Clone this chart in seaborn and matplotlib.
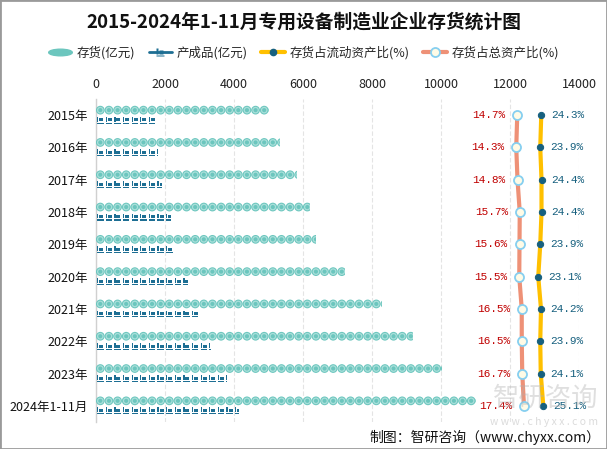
import numpy as np
import pandas as pd
import matplotlib
matplotlib.use("Agg")
import matplotlib.pyplot as plt
from matplotlib.path import Path
from matplotlib.lines import Line2D
from matplotlib.patches import Rectangle
import seaborn as sns

# ---------------- data ----------------
years = ['2015年', '2016年', '2017年', '2018年', '2019年', '2020年',
         '2021年', '2022年', '2023年', '2024年1-11月']
inventory = [5010, 5330, 5830, 6200, 6370, 7220, 8290, 9190, 10030, 11010]   # 存货(亿元)
finished = [1770, 1800, 1910, 2170, 2290, 2670, 3040, 3330, 3800, 4150]     # 产成品(亿元)
ratio_current = [24.3, 23.9, 24.4, 24.4, 23.9, 23.1, 24.2, 23.9, 24.1, 25.1]  # 存货占流动资产比(%)
ratio_total = [14.7, 14.3, 14.8, 15.7, 15.6, 15.5, 16.5, 16.5, 16.7, 17.4]    # 存货占总资产比(%)
x_ticks = [0, 2000, 4000, 6000, 8000, 10000, 12000, 14000]

title = '2015-2024年1-11月专用设备制造业企业存货统计图'
series_names = ['存货(亿元)', '产成品(亿元)', '存货占流动资产比(%)', '存货占总资产比(%)']
source = '制图：智研咨询（www.chyxx.com）'

# ---------------- style ----------------
sns.set_theme(style='white')
plt.rcParams['font.family'] = ['Noto Sans CJK SC', 'DejaVu Sans']
plt.rcParams['axes.unicode_minus'] = False

TEAL = '#6cc6be'
TEAL_LIGHT = '#a9dfda'
ICON = '#1d6e93'
YELLOW = '#ffc000'
SALMON = '#ee9177'
DOT = '#17607f'
RED = '#c00000'

fig = plt.figure(figsize=(6.07, 4.49), dpi=100)
W, H = 607, 449
ax = fig.add_axes([96 / W, 1 - 422 / H, (579 - 96) / W, (422 - 99) / H])

df = pd.DataFrame({
    'year': years * 2,
    'value': inventory + finished,
    'series': [series_names[0]] * len(years) + [series_names[1]] * len(years),
})
sns.barplot(data=df, x='value', y='year', hue='series', order=years,
            hue_order=series_names[:2], orient='y', width=0.62, dodge=True,
            ax=ax, legend=False, palette=[TEAL, ICON])

step_circle = 250.0
step_icon = 250.0

# icon marker path (small forklift-like glyph with underline)
icon_verts = [
    (0.0, 0.2), (0.18, 0.2), (0.18, 0.95), (0.0, 0.95), (0.0, 0.2),
    (0.32, 0.22), (0.95, 0.22), (0.95, 0.68), (0.32, 0.68), (0.32, 0.22),
    (0.0, -0.12), (1.0, -0.12), (1.0, 0.04), (0.0, 0.04), (0.0, -0.12),
]
icon_codes = [Path.MOVETO, Path.LINETO, Path.LINETO, Path.LINETO, Path.CLOSEPOLY] * 3
icon_path = Path(np.array(icon_verts) - np.array([0.5, 0.42]), icon_codes)

for ci, cont in enumerate(ax.containers):
    for patch in cont.patches:
        patch.set_facecolor('none')
        patch.set_edgecolor('none')
        val = patch.get_width()
        yc = patch.get_y() + patch.get_height() / 2
        if ci == 0:
            xs = np.arange(step_circle / 2, val + step_circle, step_circle)
            ys = np.full_like(xs, yc)
            s1 = ax.scatter(xs, ys, s=6.3 ** 2, color=TEAL, edgecolor='none', zorder=3)
            s2 = ax.scatter(xs, ys, s=3.9 ** 2, facecolor='none', edgecolor=TEAL_LIGHT,
                            linewidth=0.9, zorder=4)
            for s in (s1, s2):
                s.set_clip_path(patch)
        else:
            xs = np.arange(step_icon / 2, val + step_icon, step_icon)
            ys = np.full_like(xs, yc)
            s = ax.scatter(xs, ys, s=5.0 ** 2, marker=icon_path, color=ICON,
                           edgecolor='none', zorder=3)
            s.set_clip_path(patch)

ax.set_xlim(0, 14000)
ax.set_ylim(len(years) - 0.5, -0.5)
ax.set_xlabel('')
ax.set_ylabel('')
ax.grid(axis='x', color='#e4e4e4', lw=0.8, ls=(0, (4, 2)))
ax.set_axisbelow(True)
for side in ('top', 'right', 'bottom'):
    ax.spines[side].set_visible(False)
ax.spines['left'].set_color('#d0d0d0')
ax.spines['left'].set_linewidth(1)

# ---------------- ratio lines on a secondary x axis ----------------
ax2 = ax.twiny()
pos = np.arange(len(years))
sns.lineplot(x=ratio_total, y=pos, orient='y', sort=False, ax=ax2, color=SALMON,
             lw=3, marker='o', markersize=6.5, markerfacecolor='#fffbe6',
             markeredgecolor='#86cff0', markeredgewidth=1.3, zorder=6)
sns.lineplot(x=ratio_current, y=pos, orient='y', sort=False, ax=ax2, color=YELLOW,
             lw=3, marker='o', markersize=4.5, markerfacecolor=DOT,
             markeredgecolor=DOT, zorder=6)
ax2.set_xlim(-153.8, 39.4)
ax2.set_ylim(len(years) - 0.5, -0.5)
ax2.set_xticks([])
ax2.set_xlabel('')
ax2.set_ylabel('')
for sp in ax2.spines.values():
    sp.set_visible(False)

# main axis ticks on top (after twiny, which resets them)
ax.xaxis.set_ticks_position('top')
ax.xaxis.set_label_position('top')
ax.set_xticks(x_ticks)
ax.set_xticklabels([str(t) for t in x_ticks])
ax.tick_params(axis='x', which='both', top=True, bottom=False, labeltop=True,
               labelbottom=False, length=0, pad=6, labelsize=9, labelcolor='#222222')
ax.tick_params(axis='y', length=0, pad=6, labelsize=9, labelcolor='#111111')

for i, v in enumerate(ratio_total):
    ax2.annotate(f'{v:.1f}%', (v, i), xytext=(-8.5, 0), textcoords='offset points',
                 ha='right', va='center', color=RED, fontsize=8,
                 family=['Liberation Mono', 'DejaVu Sans Mono'])
for i, v in enumerate(ratio_current):
    ax2.annotate(f'{v:.1f}%', (v, i), xytext=(7, 0), textcoords='offset points',
                 ha='left', va='center', color=DOT, fontsize=8,
                 family=['Liberation Mono', 'DejaVu Sans Mono'])

# ---------------- title & legend ----------------
fig.text(0.5, 1 - 22 / H, title, ha='center', va='center', fontsize=13.5,
         fontweight='bold', color='#111111')

ell = Path.unit_circle()
ell_path = Path(ell.vertices * np.array([1.0, 0.28]), ell.codes)
handles = [
    Line2D([], [], ls='none', marker=ell_path, markersize=17, color=TEAL,
           markerfacecolor=TEAL, markeredgecolor=TEAL),
    Line2D([], [], color=ICON, lw=2, marker=icon_path, markersize=6,
           markerfacecolor=ICON, markeredgecolor='none'),
    Line2D([], [], color=YELLOW, lw=3, marker='o', markersize=4.5,
           markerfacecolor=DOT, markeredgecolor=DOT),
    Line2D([], [], color=SALMON, lw=3, marker='o', markersize=6.5,
           markerfacecolor='#fffbe6', markeredgecolor='#86cff0', markeredgewidth=1.3),
]
fig.legend(handles, series_names, loc='center', bbox_to_anchor=(0.5, 1 - 53 / H),
           ncol=4, frameon=False, fontsize=9, handlelength=1.9,
           handletextpad=0.35, columnspacing=1.1)

# ---------------- watermark & source ----------------
fig.text(598 / W, 1 - 398 / H, '智研咨询', ha='right', va='center', fontsize=19,
         color='#b0b0b0', alpha=0.4, zorder=10)
fig.text(598 / W, 1 - 422 / H, 'w w w . c h y x x . c o m', ha='right', va='center',
         fontsize=7.5, color='#b0b0b0', alpha=0.45, zorder=10)
fig.text(600 / W, 1 - 437 / H, source, ha='right', va='center', fontsize=10,
         color='#111111', zorder=11)

fig.patches.append(Rectangle((0, 0), 1, 1, transform=fig.transFigure, fill=False,
                             edgecolor='#9a9a9a', lw=2))

fig.savefig('out.png', dpi=100, facecolor='white')
